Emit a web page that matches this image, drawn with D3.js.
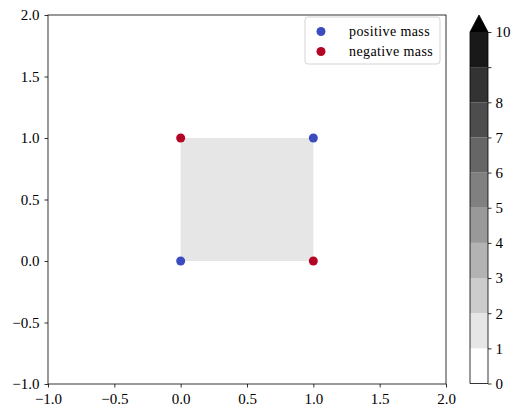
<!DOCTYPE html>
<html>
<head>
<meta charset="utf-8">
<script src="https://cdn.jsdelivr.net/npm/d3@7"></script>
<style>
  body { margin: 0; background: #fff; }
  text { font-family: "Liberation Serif", "DejaVu Serif", serif; }
</style>
</head>
<body>
<div class="visualization"></div>
<script>
// data
var massX = [0, 1, 0, 1];
var massY = [0, 1, 1, 0];
var massSign = ["positive", "positive", "negative", "negative"];
var legendLabels = ["positive mass", "negative mass"];
var squareX = [0, 1];
var squareY = [0, 1];
var squareLevel = 1.5;
var levels = [0, 1, 2, 3, 4, 5, 6, 7, 8, 9, 10];
var levelTicks = [0, 1, 2, 3, 4, 5, 6, 7, 8, 9, 10];
var levelTickLabels = ["0", "1", "2", "3", "4", "5", "6", "7", "8", "", "10"];
var axisTicks = [-1, -0.5, 0, 0.5, 1, 1.5, 2];

var width = 521, height = 416;
var margin = {top: 15, left: 48, right: 446, bottom: 384};
var colors = {positive: "#3b4cc0", negative: "#b40426"};

var svg = d3.select(".visualization").append("svg")
    .attr("width", width).attr("height", height);

var xScale = d3.scaleLinear().domain([-1, 2]).range([margin.left, margin.right]);
var yScale = d3.scaleLinear().domain([-1, 2]).range([margin.bottom, margin.top]);

// grey levels, reversed gray map sampled per band
var grey = function(v){
    var g = Math.round(255 * (1 - v / 10));
    return d3.rgb(g, g, g).toString();
};
var bandColor = function(lo){ return grey(lo); };

// filled square
svg.append("rect")
    .attr("x", xScale(squareX[0]))
    .attr("y", yScale(squareY[1]))
    .attr("width", xScale(squareX[1]) - xScale(squareX[0]))
    .attr("height", yScale(squareY[0]) - yScale(squareY[1]))
    .attr("fill", bandColor(Math.floor(squareLevel)));

// points
svg.selectAll(".dot")
    .data(massX.map(function(x, i){ return {x: x, y: massY[i], s: massSign[i]}; }))
    .enter().append("circle")
    .attr("class", "dot")
    .attr("cx", function(d){ return xScale(d.x); })
    .attr("cy", function(d){ return yScale(d.y); })
    .attr("r", 4.5)
    .attr("fill", function(d){ return colors[d.s]; });

// axes
var fmt = function(d){ return d3.format(".1f")(d).replace("-", "\u2212"); };
var xAxis = svg.append("g")
    .attr("transform", "translate(0," + margin.bottom + ")")
    .call(d3.axisBottom(xScale).tickValues(axisTicks).tickFormat(fmt).tickSize(3.5).tickPadding(6));
var yAxis = svg.append("g")
    .attr("transform", "translate(" + margin.left + ",0)")
    .call(d3.axisLeft(yScale).tickValues(axisTicks).tickFormat(fmt).tickSize(3.5).tickPadding(5));
[xAxis, yAxis].forEach(function(a){
    a.selectAll("text").attr("font-size", 15).attr("fill", "#000")
        .style("font-family", "'Liberation Serif', serif");
    a.select(".domain").remove();
    a.selectAll("line").attr("stroke", "#000").attr("stroke-width", 0.8);
});
// frame
svg.append("rect")
    .attr("x", margin.left).attr("y", margin.top)
    .attr("width", margin.right - margin.left)
    .attr("height", margin.bottom - margin.top)
    .attr("fill", "none").attr("stroke", "#000").attr("stroke-width", 0.8);

// legend
var legend = svg.append("g").attr("transform", "translate(305,17)");
legend.append("rect")
    .attr("width", 135).attr("height", 47).attr("rx", 3)
    .attr("fill", "#fff").attr("fill-opacity", 0.8)
    .attr("stroke", "#d5d5d5").attr("stroke-width", 1);
legendLabels.forEach(function(lab, i){
    var yy = 14.5 + i * 20;
    legend.append("circle").attr("cx", 16).attr("cy", yy).attr("r", 4.5)
        .attr("fill", i === 0 ? colors.positive : colors.negative);
    legend.append("text").attr("x", 44).attr("y", yy + 4)
        .attr("font-size", 14).attr("letter-spacing", 0.4).text(lab);
});

// colorbar
var cbX = 470, cbW = 18;
var cScale = d3.scaleLinear().domain([0, 10]).range([383.5, 32]);
var cb = svg.append("g");
cb.selectAll(".band")
    .data(levels.slice(0, -1))
    .enter().append("rect")
    .attr("class", "band")
    .attr("x", cbX).attr("width", cbW)
    .attr("y", function(d){ return cScale(d + 1); })
    .attr("height", function(d){ return cScale(d) - cScale(d + 1); })
    .attr("fill", bandColor);
// extend triangle
var top10 = cScale(10);
cb.append("path")
    .attr("d", "M" + cbX + "," + top10 + "L" + (cbX + cbW / 2) + "," + (top10 - 17) + "L" + (cbX + cbW) + "," + top10 + "Z")
    .attr("fill", "#000");
cb.append("path")
    .attr("d", "M" + cbX + "," + top10 + "L" + cbX + "," + cScale(0) + "L" + (cbX + cbW) + "," + cScale(0) + "L" + (cbX + cbW) + "," + top10 +
        "L" + (cbX + cbW / 2) + "," + (top10 - 17) + "Z")
    .attr("fill", "none").attr("stroke", "#000").attr("stroke-width", 0.8);
var cAxis = cb.append("g")
    .attr("transform", "translate(" + (cbX + cbW) + ",0)")
    .call(d3.axisRight(cScale).tickValues(levelTicks)
        .tickFormat(function(d, i){ return levelTickLabels[i]; })
        .tickSize(3.5).tickPadding(4));
cAxis.select(".domain").remove();
cAxis.selectAll("text").attr("font-size", 15).attr("fill", "#000")
    .style("font-family", "'Liberation Serif', serif");
cAxis.selectAll("line").attr("stroke", "#000").attr("stroke-width", 0.8);
</script>
</body>
</html>
